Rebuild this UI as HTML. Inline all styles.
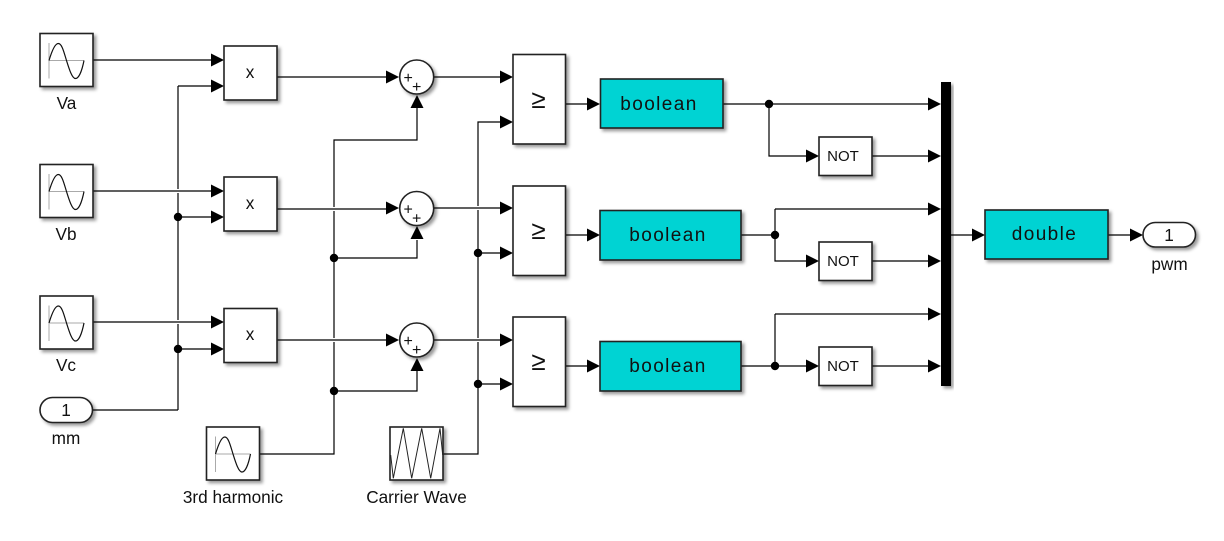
<!DOCTYPE html>
<html><head><meta charset="utf-8"><style>
html,body{margin:0;padding:0;background:#fff}
svg{display:block}
text{font-family:"Liberation Sans",sans-serif;fill:#111}
.b{stroke:#222;stroke-width:1.6;fill:#fff;filter:url(#s)}
.c{stroke:#222;stroke-width:1.6;fill:#00d3d3;filter:url(#s)}
.w{stroke:#000;stroke-width:1.2;fill:none}
.l{font-size:17.2px;text-anchor:middle}
.k{font-size:19px;text-anchor:middle;letter-spacing:1.4px}
</style></head><body>
<svg width="1224" height="541" viewBox="0 0 1224 541" xmlns="http://www.w3.org/2000/svg">
<defs>
<filter id="s" x="-20%" y="-20%" width="150%" height="150%"><feDropShadow dx="2.5" dy="2.5" stdDeviation="1.6" flood-color="#000" flood-opacity=".4"/></filter>
<g id="sine">
<rect class="b" x="0" y="0" width="53" height="53"/>
<path d="M8.5 27H44M9 9.5V45" stroke="#aaa" stroke-width="1" fill="none"/>
<path d="M9 27C12 17 15 10 18.3 10C22 10 24 19 26.5 27C29 35 32 45 35.5 45C39 45 42 37 44 27" stroke="#111" stroke-width="1.2" fill="none"/>
</g>
<path id="a" d="M0 -6.5L13 0L0 6.5Z" fill="#000"/>
<path id="u" d="M-6.5 0L0 -13L6.5 0Z" fill="#000"/>
<circle id="d" r="4.2" fill="#000"/>
</defs>

<!-- wires -->
<path class="w" d="M93 60H212M178 86H212M93 191H212M178 217H212M93 322H212M178 349H212M92 410H178"/>
<path class="w" d="M178 86V189M178 193V320M178 324V410"/>
<path class="w" d="M277 77H387M277 209H387M277 340H387"/>
<path class="w" d="M259.500 454H334V342M334 338V211M334 207V140H417V108M334 258H417V240M334 391H417V371"/>
<path class="w" d="M434 77H501M434 208H501M434 340H501"/>
<path class="w" d="M443 454H478V342M478 338V210M478 206V122H501M478 253H501M478 384H501"/>
<path class="w" d="M565.500 104H588M565.500 235H588M565.500 366H588"/>
<path class="w" d="M723 104H929M769 104V156H807M872 156H929"/>
<path class="w" d="M741 235H775M775 209H929M775 209V261H807M872 261H929"/>
<path class="w" d="M741 366H807M775 314H929M775 314V366M872 366H929"/>
<path class="w" d="M951 235H973M1108 235H1131"/>

<!-- arrows -->
<use href="#a" x="211" y="60"/><use href="#a" x="211" y="86"/><use href="#a" x="211" y="191"/><use href="#a" x="211" y="217"/><use href="#a" x="211" y="322"/><use href="#a" x="211" y="349"/>
<use href="#a" x="386" y="77"/><use href="#a" x="386" y="208"/><use href="#a" x="386" y="340"/>
<use href="#u" x="417" y="108"/><use href="#u" x="417" y="239"/><use href="#u" x="417" y="371"/>
<use href="#a" x="500" y="77"/><use href="#a" x="500" y="122"/><use href="#a" x="500" y="208"/><use href="#a" x="500" y="253"/><use href="#a" x="500" y="340"/><use href="#a" x="500" y="384"/>
<use href="#a" x="587" y="104"/><use href="#a" x="587" y="235"/><use href="#a" x="587" y="366"/>
<use href="#a" x="806" y="156"/><use href="#a" x="806" y="261"/><use href="#a" x="806" y="366"/>
<use href="#a" x="928" y="104"/><use href="#a" x="928" y="156"/><use href="#a" x="928" y="209"/><use href="#a" x="928" y="261"/><use href="#a" x="928" y="314"/><use href="#a" x="928" y="366"/>
<use href="#a" x="972" y="235"/><use href="#a" x="1130" y="235"/>

<!-- junctions -->
<use href="#d" x="178" y="217"/><use href="#d" x="178" y="349"/><use href="#d" x="334" y="258"/><use href="#d" x="334" y="391"/><use href="#d" x="478" y="253"/><use href="#d" x="478" y="384"/><use href="#d" x="769" y="104"/><use href="#d" x="775" y="235"/><use href="#d" x="775" y="366"/>

<!-- sources -->
<use href="#sine" x="40" y="33.500"/><use href="#sine" x="40" y="164.500"/><use href="#sine" x="40" y="296"/><use href="#sine" x="206.500" y="427"/>
<rect class="b" x="390" y="427" width="53" height="53"/>
<path d="M390.700 455L393.300 478.300L403.300 428.300L411.700 478.300L421.700 428.300L430.700 478.300L440 428.300L442.700 455" stroke="#222" stroke-width="1" fill="none"/>
<rect class="b" x="40" y="397.500" width="52.500" height="25" rx="12.500"/>
<text class="l" x="66" y="416">1</text>
<text class="l" x="66.500" y="109">Va</text>
<text class="l" x="66" y="240">Vb</text>
<text class="l" x="66" y="371">Vc</text>
<text class="l" x="66" y="444">mm</text>
<text class="l" x="233" y="503">3rd harmonic</text>
<text class="l" x="416.500" y="503">Carrier Wave</text>

<!-- product -->
<rect class="b" x="224" y="46" width="53" height="54"/>
<rect class="b" x="224" y="177" width="53" height="54"/>
<rect class="b" x="224" y="308.500" width="53" height="54"/>
<text class="l" x="250" y="78">x</text><text class="l" x="250" y="209">x</text><text class="l" x="250" y="340">x</text>

<!-- sums -->
<circle class="b" cx="416.700" cy="77" r="17"/><text x="403.500" y="83" style="font-size:16px">+</text><text x="412" y="92" style="font-size:16px">+</text>
<circle class="b" cx="416.700" cy="208.500" r="17"/><text x="403.500" y="214.500" style="font-size:16px">+</text><text x="412" y="223.500" style="font-size:16px">+</text>
<circle class="b" cx="416.700" cy="340" r="17"/><text x="403.500" y="346" style="font-size:16px">+</text><text x="412" y="355" style="font-size:16px">+</text>

<!-- compare -->
<rect class="b" x="513" y="54.500" width="52.500" height="89.500"/>
<rect class="b" x="513" y="186" width="52.500" height="89.500"/>
<rect class="b" x="513" y="317" width="52.500" height="89.500"/>
<text x="538.500" y="108" style="font-size:26px;text-anchor:middle">≥</text>
<text x="538.500" y="239" style="font-size:26px;text-anchor:middle">≥</text>
<text x="538.500" y="370" style="font-size:26px;text-anchor:middle">≥</text>

<!-- converters -->
<rect class="c" x="600.500" y="79" width="122.500" height="49"/>
<rect class="c" x="600" y="210.500" width="141" height="49.500"/>
<rect class="c" x="600" y="341.500" width="141" height="49.500"/>
<rect class="c" x="985" y="210" width="123" height="49"/>
<text class="k" x="659" y="110">boolean</text>
<text class="k" x="668" y="241">boolean</text>
<text class="k" x="668" y="372">boolean</text>
<text class="k" x="1044.500" y="240">double</text>

<!-- NOT -->
<rect class="b" x="819" y="137" width="53" height="38.500"/>
<rect class="b" x="819" y="242" width="53" height="38.500"/>
<rect class="b" x="819" y="347" width="53" height="38.500"/>
<text x="843" y="161" style="font-size:15px;text-anchor:middle">NOT</text>
<text x="843" y="266" style="font-size:15px;text-anchor:middle">NOT</text>
<text x="843" y="371" style="font-size:15px;text-anchor:middle">NOT</text>

<!-- mux -->
<rect x="941" y="82" width="10" height="304" fill="#000" filter="url(#s)"/>

<!-- outport -->
<rect class="b" x="1143" y="222.500" width="52.500" height="24.500" rx="12.250"/>
<text class="l" x="1169" y="241">1</text>
<text class="l" x="1169.500" y="270">pwm</text>
</svg>
</body></html>
